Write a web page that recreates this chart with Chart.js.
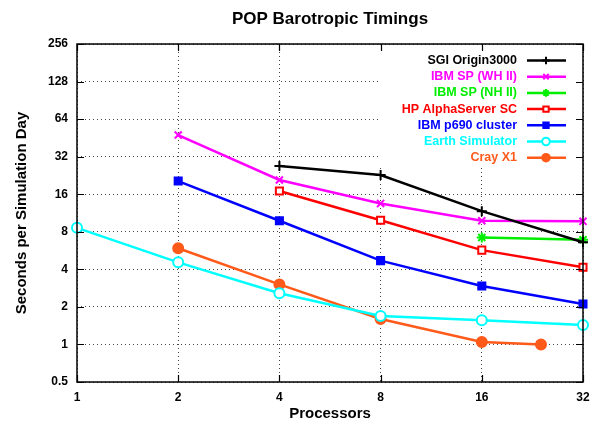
<!DOCTYPE html>
<html>
<head>
<meta charset="utf-8">
<style>
  html, body { margin: 0; padding: 0; background: #fff; }
  #wrap { width: 592px; height: 423px; }
</style>
</head>
<body>
<div id="wrap"><canvas id="myChart"></canvas></div>
<script src="https://cdn.jsdelivr.net/npm/chart.js"></script>
<script>
  // processors (x) and seconds per simulation day (y)
  const xTicks = [1, 2, 4, 8, 16, 32];
  const yTicks = [0.5, 1, 2, 4, 8, 16, 32, 64, 128, 256];

  const sgiProcs = [4, 8, 16, 32];
  const sgiTimes = [26.9, 22.8, 11.7, 6.6];
  const whProcs = [2, 4, 8, 16, 32];
  const whTimes = [47.7, 20.8, 13.5, 9.8, 9.7];
  const nhProcs = [16, 32];
  const nhTimes = [7.2, 6.9];
  const hpProcs = [4, 8, 16, 32];
  const hpTimes = [17.0, 9.9, 5.7, 4.15];
  const p690Procs = [2, 4, 8, 16, 32];
  const p690Times = [20.4, 9.8, 4.7, 2.94, 2.11];
  const esProcs = [1, 2, 4, 8, 16, 32];
  const esTimes = [8.6, 4.55, 2.57, 1.69, 1.56, 1.43];
  const crayProcs = [2, 4, 8, 16, 24];
  const crayTimes = [5.9, 3.03, 1.6, 1.045, 1.0];

  const FONT = '"Liberation Sans", Arial, Helvetica, sans-serif';

  function pts(xs, ys) {
    return xs.map((x, i) => ({ x: x, y: ys[i] }));
  }

  function series(label, xs, ys, color, style, fill) {
    return {
      label: label,
      data: pts(xs, ys),
      borderColor: color,
      backgroundColor: fill,
      pointStyle: style,
      pointRadius: 5,
      pointBorderWidth: 2,
      pointBackgroundColor: fill,
      pointBorderColor: color,
      borderWidth: 2.5,
      tension: 0,
      clip: false,
    };
  }

  const datasets = [
    series('SGI Origin3000', sgiProcs, sgiTimes, '#000000', 'cross', '#000000'),
    series('IBM SP (WH II)', whProcs, whTimes, '#ff00ff', 'crossRot', '#ff00ff'),
    series('IBM SP (NH II)', nhProcs, nhTimes, '#00ee00', 'star', '#00ee00'),
    series('HP AlphaServer SC', hpProcs, hpTimes, '#ff0000', 'rect', '#ffffff'),
    series('IBM p690 cluster', p690Procs, p690Times, '#0000ff', 'rect', '#0000ff'),
    series('Earth Simulator', esProcs, esTimes, '#00ffff', 'circle', '#ffffff'),
    series('Cray X1', crayProcs, crayTimes, '#ff5a1a', 'circle', '#ff5a1a'),
  ];

  // title, legend box and inward ticks like the original plot
  const decor = {
    id: 'decor',
    beforeDatasetsDraw(chart) {
      const ctx = chart.ctx;
      const a = chart.chartArea;
      ctx.save();
      ctx.fillStyle = '#fff';
      ctx.fillRect(378, a.top + 1, a.right - 379, 122);
      ctx.restore();
    },
    afterDraw(chart) {
      const ctx = chart.ctx;
      const a = chart.chartArea;
      const xs = chart.scales.x, ys = chart.scales.y;
      ctx.save();
      // box
      ctx.strokeStyle = '#000';
      ctx.lineWidth = 1.5;
      ctx.strokeRect(a.left, a.top, a.right - a.left, a.bottom - a.top);
      // inward ticks on all sides
      ctx.lineWidth = 1.2;
      ctx.beginPath();
      xTicks.forEach(v => {
        const px = Math.round(xs.getPixelForValue(v)) + 0.5;
        ctx.moveTo(px, a.bottom); ctx.lineTo(px, a.bottom - 7);
        ctx.moveTo(px, a.top); ctx.lineTo(px, a.top + 7);
      });
      yTicks.forEach(v => {
        const py = Math.round(ys.getPixelForValue(v)) + 0.5;
        ctx.moveTo(a.left, py); ctx.lineTo(a.left + 7, py);
        ctx.moveTo(a.right, py); ctx.lineTo(a.right - 7, py);
      });
      ctx.stroke();
      // title
      ctx.fillStyle = '#000';
      ctx.font = 'bold 17px ' + FONT;
      ctx.textAlign = 'center';
      ctx.textBaseline = 'middle';
      ctx.fillText('POP Barotropic Timings', (a.left + a.right) / 2, 19);
      // legend
      ctx.font = 'bold 12.5px ' + FONT;
      ctx.textAlign = 'right';
      chart.data.datasets.forEach((ds, i) => {
        const y = 60.5 + i * 16.2;
        ctx.fillStyle = ds.borderColor;
        ctx.fillText(ds.label, 517, y);
        ctx.strokeStyle = ds.borderColor;
        ctx.lineWidth = 2.5;
        ctx.beginPath();
        ctx.moveTo(527, y); ctx.lineTo(566, y);
        ctx.stroke();
        ctx.fillStyle = ds.pointBackgroundColor;
        ctx.lineWidth = 2;
        Chart.helpers.drawPoint(ctx, { pointStyle: ds.pointStyle, radius: 3.8, rotation: 0, borderWidth: 2 }, 546, y);
      });
      ctx.restore();
    }
  };

  new Chart(document.getElementById('myChart'), {
    type: 'line',
    data: { datasets: datasets },
    plugins: [decor],
    options: {
      responsive: true,
      maintainAspectRatio: false,
      animation: false,
      layout: { padding: { top: 44, right: 9, left: 0, bottom: 0 } },
      plugins: {
        legend: { display: false },
        title: { display: false },
        tooltip: { enabled: false },
      },
      scales: {
        x: {
          type: 'logarithmic',
          min: 1,
          max: 32,
          afterBuildTicks: s => { s.ticks = xTicks.map(v => ({ value: v })); },
          afterFit: s => { s.height = 41; s.paddingLeft = 0; s.paddingRight = 0; },
          ticks: {
            color: '#000',
            font: { family: FONT, size: 12, weight: 'bold' },
            padding: 8,
            maxRotation: 0,
            autoSkip: false,
            callback: v => String(v),
          },
          grid: {
            drawTicks: false,
            color: '#444',
            lineWidth: 1,
          },
          border: { display: false, dash: [1, 3] },
          title: {
            display: true,
            text: 'Processors',
            color: '#000',
            font: { family: FONT, size: 15, weight: 'bold' },
            padding: { top: 0, bottom: 0 },
          },
        },
        y: {
          type: 'logarithmic',
          min: 0.5,
          max: 256,
          afterBuildTicks: s => { s.ticks = yTicks.map(v => ({ value: v })); },
          afterFit: s => { s.width = 77; s.paddingTop = 0; s.paddingBottom = 0; },
          ticks: {
            color: '#000',
            font: { family: FONT, size: 12, weight: 'bold' },
            padding: 9,
            autoSkip: false,
            callback: v => String(v),
          },
          grid: {
            drawTicks: false,
            color: '#444',
            lineWidth: 1,
          },
          border: { display: false, dash: [1, 3] },
          title: {
            display: true,
            text: 'Seconds per Simulation Day',
            color: '#000',
            font: { family: FONT, size: 15, weight: 'bold' },
            padding: { top: 13, bottom: 0 },
          },
        },
      },
    },
  });
</script>
</body>
</html>
